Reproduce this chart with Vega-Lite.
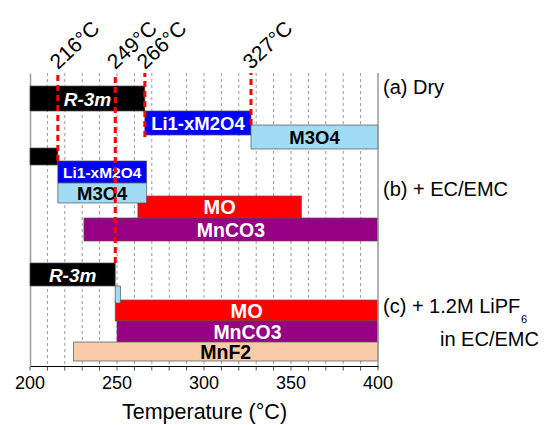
{
  "$schema": "https://vega.github.io/schema/vega-lite/v6.json",
  "autosize": "none",
  "padding": {"left": 30, "top": 73, "right": 171, "bottom": 59},
  "width": 348,
  "height": 293,
  "config": {
    "font": "Liberation Sans",
    "view": {"stroke": null},
    "background": "white"
  },
  "datasets": {
    "bars": [
      {"id": 1, "phase": "R-3m", "label": "R-3m", "start": 200, "end": 266, "top": 13, "bottom": 38},
      {"id": 2, "phase": "Li1-xM2O4", "label": "Li1-xM2O4", "start": 266, "end": 327, "top": 38, "bottom": 62},
      {"id": 3, "phase": "M3O4", "label": "M3O4", "start": 327, "end": 400, "top": 52, "bottom": 76},
      {"id": 4, "phase": "R-3m", "label": "", "start": 200, "end": 216, "top": 75, "bottom": 92},
      {"id": 5, "phase": "MO", "label": "MO", "start": 262, "end": 356, "top": 123, "bottom": 145},
      {"id": 6, "phase": "Li1-xM2O4", "label": "Li1-xM2O4", "start": 216, "end": 267, "top": 88, "bottom": 110},
      {"id": 7, "phase": "M3O4", "label": "M3O4", "start": 216, "end": 267, "top": 110, "bottom": 130},
      {"id": 8, "phase": "MnCO3", "label": "MnCO3", "start": 231, "end": 400, "top": 145, "bottom": 168},
      {"id": 9, "phase": "R-3m", "label": "R-3m", "start": 200, "end": 249, "top": 190, "bottom": 213},
      {"id": 10, "phase": "MO", "label": "MO", "start": 249, "end": 400, "top": 227, "bottom": 248},
      {"id": 11, "phase": "M3O4", "label": "", "start": 249, "end": 252, "top": 213, "bottom": 230},
      {"id": 12, "phase": "MnCO3", "label": "MnCO3", "start": 250, "end": 400, "top": 248, "bottom": 269},
      {"id": 13, "phase": "MnF2", "label": "MnF2", "start": 225, "end": 400, "top": 269, "bottom": 288}
    ],
    "temps": [
      {"t": 216, "label": "216°C", "yend": 88},
      {"t": 249, "label": "249°C", "yend": 190},
      {"t": 266, "label": "266°C", "yend": 64},
      {"t": 327, "label": "327°C", "yend": 52}
    ],
    "notes": [
      {"note": "(a) Dry", "y": 15},
      {"note": "(b) + EC/EMC", "y": 117},
      {"note": "(c) + 1.2M LiPF", "y": 234}
    ],
    "minor": [
      {"v": 200}, {"v": 210}, {"v": 220}, {"v": 230}, {"v": 240}, {"v": 250}, {"v": 260}, {"v": 270}, {"v": 280}, {"v": 290},
      {"v": 300}, {"v": 310}, {"v": 320}, {"v": 330}, {"v": 340}, {"v": 350}, {"v": 360}, {"v": 370}, {"v": 380}, {"v": 390}, {"v": 400}
    ],
    "major": [
      {"v": 200}, {"v": 250}, {"v": 300}, {"v": 350}, {"v": 400}
    ]
  },
  "layer": [
    {
      "data": {"name": "minor"},
      "transform": [{"filter": "datum.v > 200 && datum.v < 400"}],
      "mark": {"type": "rule", "color": "#9a9a9a", "strokeWidth": 1, "strokeDash": [3, 3]},
      "encoding": {
        "x": {"field": "v", "type": "quantitative", "scale": {"domain": [200, 400], "nice": false, "zero": false},
          "axis": {
            "labels": false, "ticks": false, "grid": false,
            "domainColor": "#000000", "domainWidth": 1.2,
            "title": "Temperature (°C)", "titleFontSize": 21.5, "titleFontWeight": "normal", "titleColor": "#000000", "titlePadding": 35
          }}
      }
    },
    {
      "data": {"name": "bars"},
      "mark": {"type": "rect", "stroke": "#555555", "strokeWidth": 0.7},
      "encoding": {
        "x": {"field": "start", "type": "quantitative"},
        "x2": {"field": "end"},
        "y": {"field": "top", "type": "quantitative", "scale": {"domain": [0, 293], "reverse": true, "nice": false, "zero": false},
          "axis": {"labels": false, "ticks": false, "grid": false, "title": null, "domainColor": "#9a9a9a", "domainWidth": 1.5}},
        "y2": {"field": "bottom"},
        "color": {"field": "phase", "type": "nominal", "legend": null,
          "scale": {"domain": ["R-3m", "Li1-xM2O4", "M3O4", "MO", "MnCO3", "MnF2"],
                    "range": ["#000000", "#0000ff", "#a0dcf4", "#ff0000", "#960082", "#f9cba6"]}}
      }
    },
    {
      "data": {"values": [{"edge": 400}]},
      "mark": {"type": "rule", "color": "#9a9a9a", "strokeWidth": 1.5},
      "encoding": {
        "x": {"field": "edge", "type": "quantitative"}
      }
    },
    {
      "data": {"name": "minor"},
      "mark": {"type": "tick", "orient": "vertical", "color": "#000000", "size": 4, "thickness": 1, "yOffset": 2.5},
      "encoding": {
        "x": {"field": "v", "type": "quantitative"},
        "y": {"datum": 293, "type": "quantitative"}
      }
    },
    {
      "data": {"name": "major"},
      "mark": {"type": "text", "align": "center", "baseline": "top", "fontSize": 18, "color": "#000000", "dy": 9},
      "encoding": {
        "x": {"field": "v", "type": "quantitative"},
        "y": {"datum": 293, "type": "quantitative"},
        "text": {"field": "v", "type": "quantitative"}
      }
    },
    {
      "data": {"name": "bars"},
      "transform": [
        {"filter": "datum.label !== '' && datum.phase !== 'R-3m'"},
        {"fold": ["start", "end"], "as": ["k", "xv"]},
        {"fold": ["top", "bottom"], "as": ["k2", "yv"]},
        {"aggregate": [{"op": "mean", "field": "xv", "as": "xm"}, {"op": "mean", "field": "yv", "as": "ym"}, {"op": "min", "field": "xv", "as": "x0"}, {"op": "max", "field": "xv", "as": "x1"}], "groupby": ["id", "phase", "label"]}
      ],
      "mark": {"type": "text", "fontWeight": "bold", "align": "center", "baseline": "middle", "dy": 1},
      "encoding": {
        "x": {"field": "xm", "type": "quantitative"},
        "y": {"field": "ym", "type": "quantitative"},
        "text": {"field": "label", "type": "nominal"},
        "size": {"condition": [
          {"test": "datum.phase === 'Li1-xM2O4' && datum.x1 - datum.x0 < 55", "value": 15.5},
          {"test": "datum.phase === 'MO'", "value": 20},
          {"test": "datum.phase === 'MnCO3' || datum.phase === 'MnF2'", "value": 19.5}
        ], "value": 18.5},
        "color": {"condition": {"test": "datum.phase === 'M3O4' || datum.phase === 'MnF2'", "value": "#000000"}, "value": "#ffffff"}
      }
    },
    {
      "data": {"name": "bars"},
      "transform": [
        {"filter": "datum.label !== '' && datum.phase === 'R-3m'"},
        {"fold": ["start", "end"], "as": ["k", "xv"]},
        {"fold": ["top", "bottom"], "as": ["k2", "yv"]},
        {"aggregate": [{"op": "mean", "field": "xv", "as": "xm"}, {"op": "mean", "field": "yv", "as": "ym"}], "groupby": ["id", "phase", "label"]}
      ],
      "mark": {"type": "text", "fontWeight": "bold", "fontStyle": "italic", "fontSize": 19, "color": "#ffffff", "align": "center", "baseline": "middle", "dy": 1},
      "encoding": {
        "x": {"field": "xm", "type": "quantitative"},
        "y": {"field": "ym", "type": "quantitative"},
        "text": {"field": "label", "type": "nominal"}
      }
    },
    {
      "data": {"name": "temps"},
      "mark": {"type": "rule", "color": "#ff0000", "strokeWidth": 3, "strokeDash": [6, 4]},
      "encoding": {
        "x": {"field": "t", "type": "quantitative"},
        "y": {"field": "yend", "type": "quantitative"},
        "y2": {"datum": 0}
      }
    },
    {
      "data": {"name": "temps"},
      "mark": {"type": "text", "angle": -43, "align": "left", "baseline": "alphabetic", "fontSize": 21, "color": "#000000", "dx": 2, "dy": -2},
      "encoding": {
        "x": {"field": "t", "type": "quantitative"},
        "y": {"datum": 0, "type": "quantitative"},
        "text": {"field": "label", "type": "nominal"}
      }
    },
    {
      "data": {"name": "notes"},
      "mark": {"type": "text", "align": "left", "baseline": "middle", "fontSize": 20, "color": "#000000", "dx": 5},
      "encoding": {
        "x": {"datum": 400, "type": "quantitative"},
        "y": {"field": "y", "type": "quantitative"},
        "text": {"field": "note", "type": "nominal"}
      }
    },
    {
      "data": {"values": [{"note": "6", "y": 247}]},
      "mark": {"type": "text", "align": "left", "baseline": "middle", "fontSize": 11, "color": "#000000", "dx": 143},
      "encoding": {
        "x": {"datum": 400, "type": "quantitative"},
        "y": {"field": "y", "type": "quantitative"},
        "text": {"field": "note", "type": "nominal"}
      }
    },
    {
      "data": {"values": [{"note": "in EC/EMC", "y": 267}]},
      "mark": {"type": "text", "align": "left", "baseline": "middle", "fontSize": 20, "color": "#000000", "dx": 62},
      "encoding": {
        "x": {"datum": 400, "type": "quantitative"},
        "y": {"field": "y", "type": "quantitative"},
        "text": {"field": "note", "type": "nominal"}
      }
    }
  ]
}
